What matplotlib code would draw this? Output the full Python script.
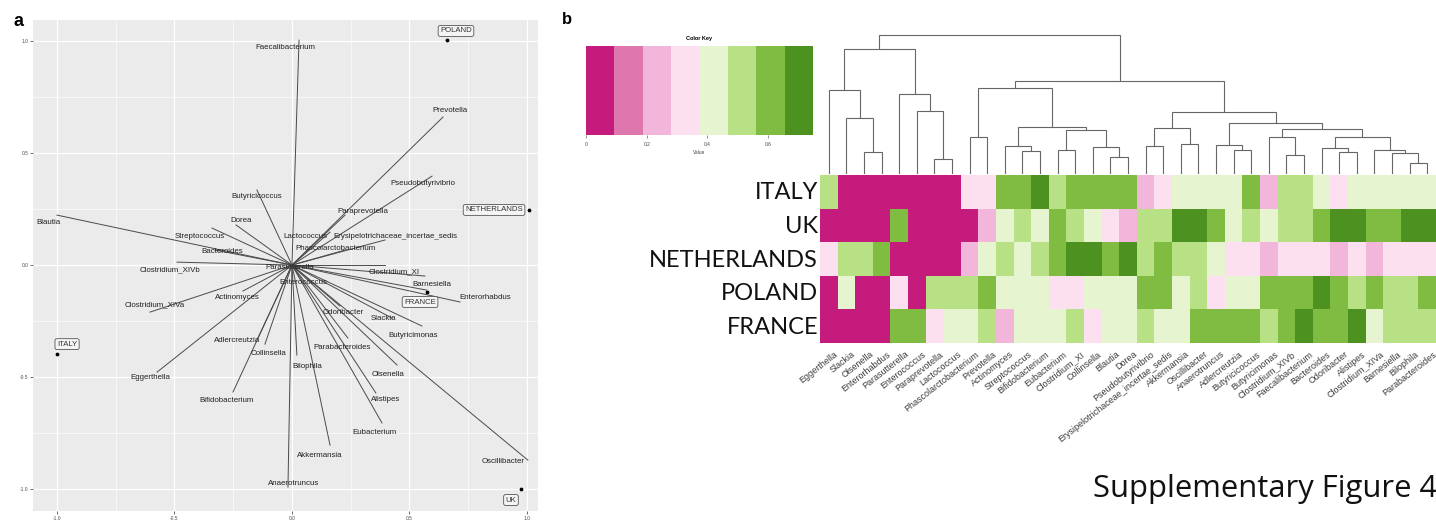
import numpy as np
import matplotlib
matplotlib.use("Agg")
import matplotlib.pyplot as plt
from matplotlib.colors import ListedColormap, BoundaryNorm

plt.rcParams['font.family'] = ['Liberation Sans', 'DejaVu Sans']

# ---------------- Panel a data (biplot) ----------------
genera_a = ["Faecalibacterium", "Prevotella", "Pseudobutyrivibrio", "Paraprevotella",
            "Lactococcus", "Erysipelotrichaceae_incertae_sedis", "Phascolarctobacterium",
            "Butyricicoccus", "Dorea", "Streptococcus", "Bacteroides", "Blautia",
            "Clostridium_XIVb", "Clostridium_XIVa", "Actinomyces", "Eggerthella",
            "Adlercreutzia", "Collinsella", "Bifidobacterium", "Bilophila",
            "Parabacteroides", "Odoribacter", "Slackia", "Butyricimonas", "Olsenella",
            "Alistipes", "Eubacterium", "Akkermansia", "Anaerotruncus", "Oscillibacter",
            "Clostridium_XI", "Barnesiella", "Enterorhabdus", "Enterococcus", "Parasutterella"]
load_x = [0.030, 0.643, 0.596, 0.226, 0.162, 0.396, 0.226, -0.149, -0.238, -0.340, -0.328,
          -1.000, -0.489, -0.604, -0.209, -0.574, -0.145, -0.115, -0.251, 0.021, 0.238,
          0.204, 0.426, 0.553, 0.447, 0.357, 0.383, 0.162, -0.017, 1.004, 0.566, 0.574,
          0.715, 0.396, 0.030]
load_y = [1.004, 0.661, 0.397, 0.223, 0.147, 0.112, 0.067, 0.335, 0.179, 0.165, 0.067,
          0.223, 0.013, -0.210, -0.116, -0.478, -0.326, -0.353, -0.567, -0.402, -0.326,
          -0.183, -0.237, -0.272, -0.446, -0.571, -0.705, -0.804, -0.991, -0.871, -0.049,
          -0.112, -0.165, 0.000, -0.013]
label_x = [-0.030, 0.672, 0.557, 0.302, 0.055, 0.438, 0.187, -0.149, -0.217, -0.391, -0.298,
           -1.038, -0.519, -0.583, -0.234, -0.604, -0.234, -0.098, -0.277, 0.064, 0.213,
           0.217, 0.391, 0.515, 0.409, 0.400, 0.353, 0.119, 0.009, 0.898, 0.434, 0.596,
           0.821, 0.047, -0.009]
label_y = [0.973, 0.692, 0.366, 0.237, 0.129, 0.129, 0.076, 0.304, 0.201, 0.129, 0.0625,
           0.192, -0.022, -0.179, -0.147, -0.500, -0.335, -0.397, -0.603, -0.451, -0.366,
           -0.210, -0.237, -0.3125, -0.487, -0.598, -0.746, -0.848, -0.973, -0.879, -0.031,
           -0.085, -0.143, -0.076, -0.009]

countries = ["POLAND", "NETHERLANDS", "FRANCE", "ITALY", "UK"]
score_x = [0.660, 1.009, 0.574, -1.000, 0.974]
score_y = [1.004, 0.246, -0.121, -0.397, -1.000]
clabel_x = [0.698, 0.860, 0.545, -0.957, 0.932]
clabel_y = [1.045, 0.246, -0.165, -0.353, -1.049]

# ---------------- Panel b data (heatmap) ----------------
columns = ["Eggerthella", "Slackia", "Olsenella", "Enterorhabdus", "Parasutterella",
           "Enterococcus", "Paraprevotella", "Lactococcus", "Phascolarctobacterium",
           "Prevotella", "Actinomyces", "Streptococcus", "Bifidobacterium", "Eubacterium",
           "Clostridium_XI", "Collinsella", "Blautia", "Dorea", "Pseudobutyrivibrio",
           "Erysipelotrichaceae_incertae_sedis", "Akkermansia", "Oscillibacter",
           "Anaerotruncus", "Adlercreutzia", "Butyricicoccus", "Butyricimonas",
           "Clostridium_XIVb", "Faecalibacterium", "Bacteroides", "Odoribacter", "Alistipes",
           "Clostridium_XIVa", "Barnesiella", "Bilophila", "Parabacteroides"]
rows = ["ITALY", "UK", "NETHERLANDS", "POLAND", "FRANCE"]
# colour-key level (0..7) of each cell
italy  = [5, 0, 0, 0, 0, 0, 0, 0, 3, 3, 6, 6, 7, 5, 6, 6, 6, 6, 2, 3, 4, 4, 4, 4, 6, 2, 5, 5, 4, 3, 4, 4, 4, 4, 4]
uk     = [0, 0, 0, 0, 6, 0, 0, 0, 0, 2, 4, 5, 4, 6, 5, 4, 3, 2, 5, 5, 7, 7, 6, 4, 5, 4, 5, 5, 6, 7, 7, 6, 6, 7, 7]
neth   = [3, 5, 5, 6, 0, 0, 0, 0, 2, 4, 5, 4, 5, 6, 7, 7, 6, 7, 5, 6, 5, 5, 4, 3, 3, 2, 3, 3, 3, 2, 3, 2, 3, 3, 3]
poland = [0, 4, 0, 0, 3, 0, 5, 5, 5, 6, 4, 4, 4, 3, 3, 4, 4, 4, 6, 6, 4, 5, 3, 4, 4, 6, 6, 6, 7, 6, 5, 6, 5, 5, 6]
france = [0, 0, 0, 0, 6, 6, 3, 4, 4, 5, 2, 4, 4, 4, 5, 3, 4, 4, 5, 4, 4, 6, 6, 6, 6, 5, 6, 7, 6, 6, 7, 4, 5, 5, 5]

key_colors = ["#C51B7D", "#DE77AE", "#F1B6DA", "#FDE0EF", "#E6F5D0", "#B8E186", "#7FBC41", "#4D9221"]
key_min, key_max = 0.0, 0.748
key_ticks = [0, 0.2, 0.4, 0.6]
key_ticklabels = ["0", "0.2", "0.4", "0.6"]

# column dendrogram: (height, left, right)
tree = (1.40,
        (1.26,
         (0.84, "Eggerthella", (0.56, "Slackia", (0.21, "Olsenella", "Enterorhabdus"))),
         (0.80, "Parasutterella", (0.63, "Enterococcus", (0.14, "Paraprevotella", "Lactococcus")))),
        (0.93,
         (0.86,
          (0.36, "Phascolarctobacterium", "Prevotella"),
          (0.47,
           (0.27, "Actinomyces", (0.22, "Streptococcus", "Bifidobacterium")),
           (0.44,
            (0.23, "Eubacterium", "Clostridium_XI"),
            (0.26, "Collinsella", (0.16, "Blautia", "Dorea"))))),
         (0.62,
          (0.46,
           (0.27, "Pseudobutyrivibrio", "Erysipelotrichaceae_incertae_sedis"),
           (0.29, "Akkermansia", "Oscillibacter")),
          (0.51,
           (0.28, "Anaerotruncus", (0.23, "Adlercreutzia", "Butyricicoccus")),
           (0.45,
            (0.36, "Butyricimonas", (0.18, "Clostridium_XIVb", "Faecalibacterium")),
            (0.37,
             (0.25, "Bacteroides", (0.21, "Odoribacter", "Alistipes")),
             (0.23, "Clostridium_XIVa", (0.20, "Barnesiella", (0.10, "Bilophila", "Parabacteroides")))))))))

# ---------------- Figure ----------------
W, H = 1436, 525
fig = plt.figure(figsize=(W / 100, H / 100), dpi=100)
fig.patch.set_facecolor("white")


def box(l, t, r, b):
    return [l / W, 1 - b / H, (r - l) / W, (b - t) / H]


# ---- Panel a ----
ax = fig.add_axes(box(33, 20, 538, 511))
ax.set_facecolor("#EBEBEB")
ax.set_xlim(-1.102, 1.047)
ax.set_ylim(-1.098, 1.094)
ax.set_xticks([-1, -0.5, 0, 0.5, 1])
ax.set_yticks([-1, -0.5, 0, 0.5, 1])
ax.set_xticks([-0.75, -0.25, 0.25, 0.75], minor=True)
ax.set_yticks([-0.75, -0.25, 0.25, 0.75], minor=True)
ax.set_xticklabels(["-1.0", "-0.5", "0.0", "0.5", "1.0"])
ax.set_yticklabels(["-1.0", "-0.5", "0.0", "0.5", "1.0"])
ax.tick_params(which="major", labelsize=3.5, labelcolor="#4D4D4D", color="#333333",
               length=2, width=0.5, pad=1.5)
ax.tick_params(which="minor", length=0)
ax.grid(which="major", color="white", lw=0.9)
ax.grid(which="minor", color="white", lw=0.45)
ax.set_axisbelow(True)
for s in ax.spines.values():
    s.set_visible(False)

for i, g in enumerate(genera_a):
    ax.plot([0, load_x[i]], [0, load_y[i]], color="#4A4A4A", lw=0.7, zorder=2)
for i, g in enumerate(genera_a):
    ax.text(label_x[i], label_y[i], g, ha="center", va="center", fontsize=5.7,
            color="#222222", zorder=3)

ax.scatter(score_x, score_y, s=3, color="black", zorder=4)
for i, c in enumerate(countries):
    ax.text(clabel_x[i], clabel_y[i], c, ha="center", va="center", fontsize=5.6,
            color="#333333", zorder=5,
            bbox=dict(boxstyle="round,pad=0.25", fc="#F4F4F4", ec="#555555", lw=0.6))

fig.text(14 / W, 1 - 22 / H, "a", fontsize=13, fontweight="bold", va="center", ha="left")
fig.text(562 / W, 1 - 19 / H, "b", fontsize=12, fontweight="bold", va="center", ha="left")

# ---- Colour key ----
kax = fig.add_axes(box(586, 46, 813, 135))
edges = np.linspace(key_min, key_max, len(key_colors) + 1)
cmap = ListedColormap(key_colors)
norm = BoundaryNorm(edges, cmap.N)
mids = (edges[:-1] + edges[1:]) / 2
kax.pcolormesh(edges, [0, 1], mids[None, :], cmap=cmap, norm=norm, shading="flat")
kax.set_xlim(key_min, key_max)
kax.set_ylim(0, 1)
kax.set_yticks([])
kax.set_xticks(key_ticks)
kax.set_xticklabels(key_ticklabels)
kax.tick_params(axis="x", labelsize=3.5, labelcolor="#444444", color="#666666",
                length=2, width=0.5, pad=3)
for s in kax.spines.values():
    s.set_visible(False)
kax.set_title("Color Key", fontsize=4, fontweight="bold", pad=4)
kax.set_xlabel("Value", fontsize=3.5, labelpad=2, color="#444444")

# ---- Dendrogram ----
dax = fig.add_axes(box(820, 30, 1436, 173))
dax.set_xlim(-0.5, len(columns) - 0.5)
dax.set_ylim(0, 1.45)
dax.axis("off")


def draw(node):
    if isinstance(node, str):
        return columns.index(node), 0.0
    h, left, right = node
    xl, hl = draw(left)
    xr, hr = draw(right)
    dax.plot([xl, xl, xr, xr], [hl, h, h, hr], color="#666666", lw=0.8,
             solid_joinstyle="miter", clip_on=False)
    return (xl + xr) / 2, h


draw(tree)

# ---- Heatmap ----
hax = fig.add_axes(box(820, 175, 1436, 343))
levels = np.array([italy, uk, neth, poland, france])
vals = mids[levels]
hax.pcolormesh(np.arange(len(columns) + 1) - 0.5, np.arange(len(rows) + 1) - 0.5, vals,
               cmap=cmap, norm=norm, shading="flat")
hax.set_xlim(-0.5, len(columns) - 0.5)
hax.set_ylim(len(rows) - 0.5, -0.5)
hax.axis("off")
for r, name in enumerate(rows):
    hax.text(-0.6, r + 0.03, name, ha="right", va="center", fontsize=17,
             family=["Lato", "DejaVu Sans"], color="#111111")
for c, name in enumerate(columns):
    hax.text(c + 0.3, len(rows) - 0.5 + 0.2, name, rotation=38, ha="right", va="top",
             rotation_mode="anchor", fontsize=6.5, color="#3A3A3A", clip_on=False)

fig.text(1093 / W, 1 - 489 / H, "Supplementary Figure 4", fontsize=22.3,
         family=["Open Sans", "DejaVu Sans"], ha="left", va="center", color="#111111")

fig.savefig("out.png", dpi=100, facecolor="white")
